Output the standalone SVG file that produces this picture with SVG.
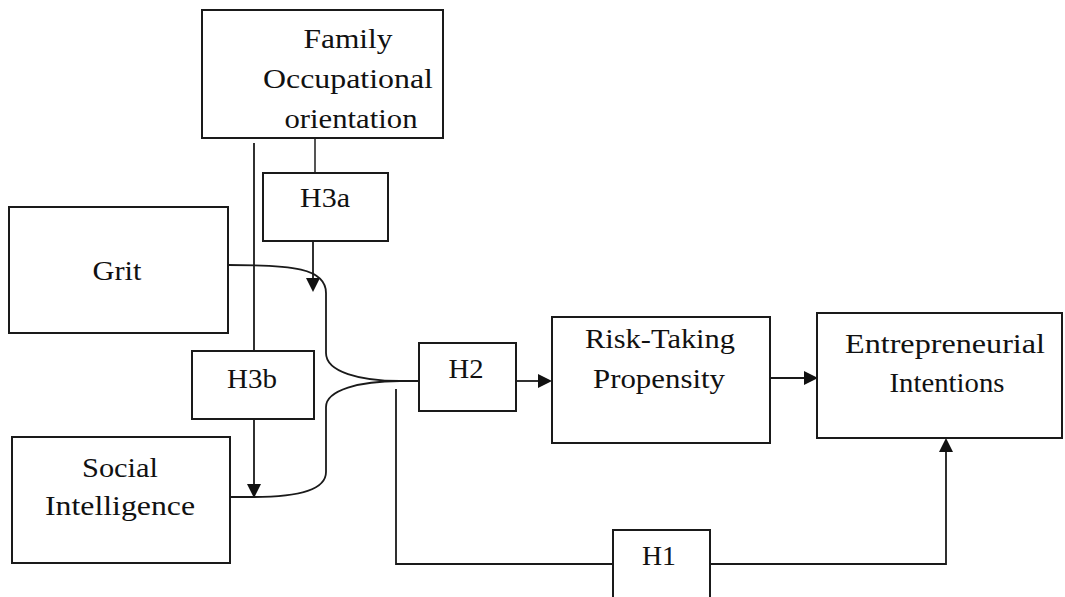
<svg xmlns="http://www.w3.org/2000/svg" width="1065" height="597" viewBox="0 0 1065 597">
<defs>
<style>
.box{fill:#fff;stroke:#1a1a1a;stroke-width:2}
.t{font-family:"Liberation Serif","Times New Roman",serif;font-size:27px;fill:#111;text-anchor:middle}
.c{fill:none;stroke:#1a1a1a;stroke-width:1.8}
.g{fill:none;stroke:#555;stroke-width:2}
.ah{fill:#111;stroke:none}
</style>
</defs>
<rect width="1065" height="597" fill="#fff"/>
<g id="connectors">
<path class="g" d="M315,138 L315,173"/>
<path class="c" d="M313,241 L313,280"/>
<path class="ah" d="M306,278 L320,278 L313,292 Z"/>
<path class="c" d="M254,143 L254,351"/>
<path class="c" d="M254,419 L254,486"/>
<path class="ah" d="M247,484 L261,484 L254,498 Z"/>
<path class="c" d="M228,265 C292,265 326,268 326,293 L326,353 C326,372 360,381 400,381 L419,381"/>
<path class="c" d="M230,497 L254,497 C300,497 326,489 326,472 L326,407 C326,390 360,381 400,381"/>
<path class="c" d="M516,381 L540,381"/>
<path class="ah" d="M538,374 L552,381 L538,388 Z"/>
<path class="c" d="M770,378 L806,378"/>
<path class="ah" d="M804,371 L818,378 L804,385 Z"/>
<path class="c" d="M396,389 L396,564 L613,564"/>
<path class="c" d="M710,564 L946,564 L946,450"/>
<path class="ah" d="M939,452 L953,452 L946,438 Z"/>
</g>
<g id="family">
<rect class="box" x="202" y="10" width="241" height="128"/>
<text class="t" x="348" y="48" textLength="89" lengthAdjust="spacingAndGlyphs">Family</text>
<text class="t" x="348" y="88" textLength="170" lengthAdjust="spacingAndGlyphs">Occupational</text>
<text class="t" x="351" y="128" textLength="133" lengthAdjust="spacingAndGlyphs">orientation</text>
</g>
<g id="grit">
<rect class="box" x="9" y="207" width="219" height="126"/>
<text class="t" x="117" y="280" textLength="49" lengthAdjust="spacingAndGlyphs">Grit</text>
</g>
<g id="h3a">
<rect class="box" x="263" y="173" width="125" height="68"/>
<text class="t" x="325" y="207" textLength="50" lengthAdjust="spacingAndGlyphs">H3a</text>
</g>
<g id="h3b">
<rect class="box" x="192" y="351" width="122" height="68"/>
<text class="t" x="252" y="388" textLength="50" lengthAdjust="spacingAndGlyphs">H3b</text>
</g>
<g id="social">
<rect class="box" x="12" y="437" width="218" height="126"/>
<text class="t" x="120" y="477" textLength="76" lengthAdjust="spacingAndGlyphs">Social</text>
<text class="t" x="120" y="515" textLength="150" lengthAdjust="spacingAndGlyphs">Intelligence</text>
</g>
<g id="h2">
<rect class="box" x="419" y="343" width="97" height="68"/>
<text class="t" x="466" y="378" textLength="35" lengthAdjust="spacingAndGlyphs">H2</text>
</g>
<g id="risk">
<rect class="box" x="552" y="317" width="218" height="126"/>
<text class="t" x="660" y="348" textLength="150" lengthAdjust="spacingAndGlyphs">Risk-Taking</text>
<text class="t" x="659" y="388" textLength="132" lengthAdjust="spacingAndGlyphs">Propensity</text>
</g>
<g id="entrepreneurial">
<rect class="box" x="817" y="313" width="245" height="125"/>
<text class="t" x="945" y="353" textLength="200" lengthAdjust="spacingAndGlyphs">Entrepreneurial</text>
<text class="t" x="947" y="392" textLength="115" lengthAdjust="spacingAndGlyphs">Intentions</text>
</g>
<g id="h1">
<rect class="box" x="613" y="530" width="97" height="72"/>
<text class="t" x="659" y="565" textLength="34" lengthAdjust="spacingAndGlyphs">H1</text>
</g>
</svg>
